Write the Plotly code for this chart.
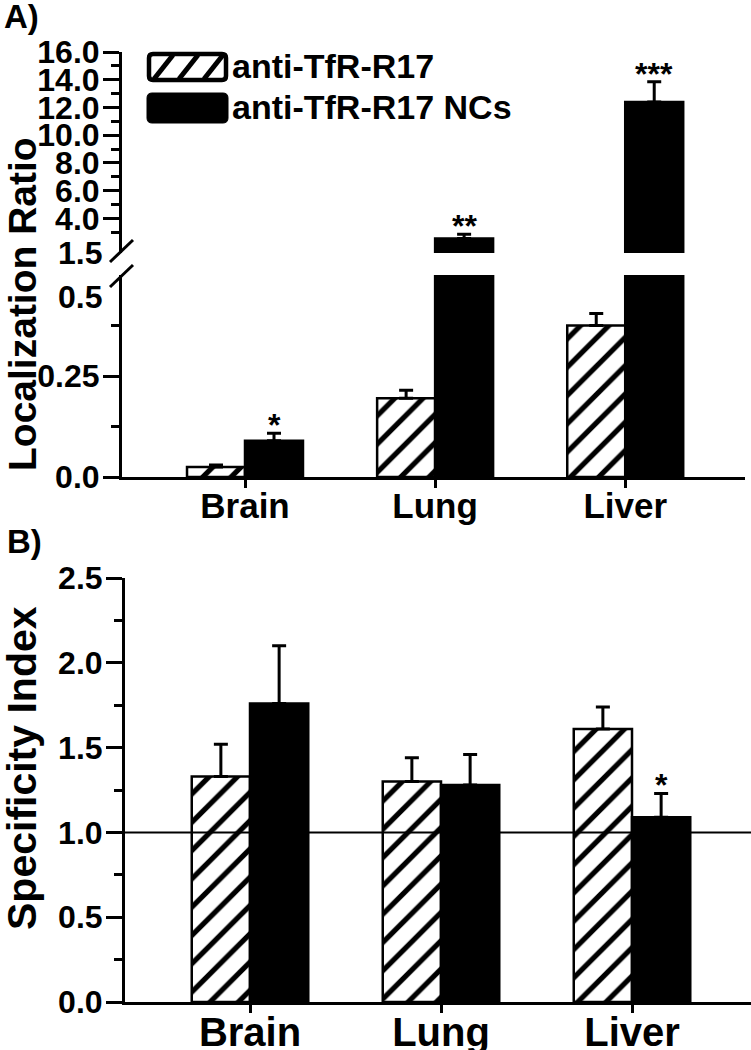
import plotly.graph_objects as go

# ---------------- data ----------------
categories = ["Brain", "Lung", "Liver"]
series_names = ["anti-TfR-R17", "anti-TfR-R17 NCs"]

loc_antibody = [0.025, 0.195, 0.375]
loc_antibody_err = [0.005, 0.02, 0.03]
loc_nc = [0.09, 2.55, 12.4]
loc_nc_err = [0.018, 0.3, 1.45]
loc_sig = ["*", "**", "***"]

spec_antibody = [1.33, 1.30, 1.61]
spec_antibody_err = [0.19, 0.14, 0.13]
spec_nc = [1.76, 1.28, 1.09]
spec_nc_err = [0.34, 0.18, 0.14]
spec_sig = ["", "", "*"]

upper_ticks = [4, 6, 8, 10, 12, 14, 16]
upper_minor = [3, 5, 7, 9, 11, 13, 15]
lower_ticks = [0, 0.25]
lower_minor = [0.125, 0.375]
spec_ticks = [0, 0.5, 1.0, 1.5, 2.0, 2.5]
spec_minor = [0.25, 0.75, 1.25, 1.75, 2.25]
break_low, break_high = 0.5, 1.5
reference_line = 1.0

# ---------------- layout helpers ----------------
W, H = 751, 1050
FONT = "Liberation Sans"


def fx(px):
    return px / W


def fy(py):
    return 1 - py / H


BW = 0.305
xpos = list(range(len(categories)))


def bars(y, err, hatched, xa, ya):
    marker = dict(color="white" if hatched else "black",
                  line=dict(color="black", width=2.5))
    if hatched:
        marker["pattern"] = dict(shape="/", fgcolor="black", bgcolor="white",
                                 size=20, solidity=0.26, fgopacity=1)
    return go.Bar(
        x=xpos, y=y, width=BW, offset=-BW if hatched else 0,
        marker=marker,
        error_y=dict(type="data", array=err, arrayminus=[0] * len(err),
                     symmetric=False, color="black", thickness=3, width=7),
        xaxis=xa, yaxis=ya, showlegend=False,
    )


fig = go.Figure()
for ya in ["y2", "y3"]:
    fig.add_trace(bars(loc_antibody, loc_antibody_err, True, "x", ya))
    fig.add_trace(bars(loc_nc, loc_nc_err, False, "x", ya))
fig.add_trace(bars(spec_antibody, spec_antibody_err, True, "x2", "y"))
fig.add_trace(bars(spec_nc, spec_nc_err, False, "x2", "y"))

axis_common = dict(showline=True, linewidth=3, linecolor="black",
                   ticks="outside", tickwidth=3, tickcolor="black",
                   showgrid=False, zeroline=False, fixedrange=True,
                   automargin=False)

ytick_font = dict(family=FONT, size=32, color="black", weight="bold")

fig.update_layout(
    template="none",
    width=W, height=H, autosize=False,
    margin=dict(l=0, r=0, t=0, b=0, pad=0),
    paper_bgcolor="white", plot_bgcolor="white",
    barmode="overlay",
    font=dict(family=FONT, color="black", weight="bold"),
    xaxis=dict(domain=[fx(122), fx(745)], anchor="y2",
               range=[-0.647, 2.63], tickvals=xpos, ticktext=categories,
               ticklen=8, ticklabelstandoff=-12,
               tickfont=dict(family=FONT, size=35, color="black", weight="bold"),
               **axis_common),
    yaxis2=dict(domain=[fy(477), fy(275)], anchor="x",
                range=[0, break_low], tickvals=lower_ticks,
                ticktext=["0.0", "0.25"], ticklen=16, ticklabelstandoff=-3,
                tickfont=ytick_font,
                minor=dict(tickvals=lower_minor, ticklen=8, tickwidth=3,
                           ticks="outside", tickcolor="black"),
                **axis_common),
    yaxis3=dict(domain=[fy(253), fy(52)], anchor="x",
                range=[break_high, 16], tickvals=upper_ticks,
                ticktext=[f"{v:.1f}" for v in upper_ticks], ticklen=16,
                ticklabelstandoff=-3, tickfont=ytick_font,
                minor=dict(tickvals=upper_minor, ticklen=8, tickwidth=3,
                           ticks="outside", tickcolor="black"),
                **axis_common),
    xaxis2=dict(domain=[fx(125), 1.0], anchor="y",
                range=[-(250 - 125) / 191, 2 + (751 - 632) / 191],
                tickvals=xpos, ticktext=categories, ticklen=8,
                ticklabelstandoff=-15,
                tickfont=dict(family=FONT, size=40, color="black", weight="bold"),
                **axis_common),
    yaxis=dict(domain=[fy(1002), fy(578)], anchor="x2",
               range=[0, 2.5], tickvals=spec_ticks,
               ticktext=[f"{v:.1f}" for v in spec_ticks], ticklen=16,
               ticklabelstandoff=-3, tickfont=ytick_font,
               minor=dict(tickvals=spec_minor, ticklen=8, tickwidth=3,
                          ticks="outside", tickcolor="black"),
               **axis_common),
)

shapes = []
shapes.append(dict(type="line", xref="x2 domain", yref="y", x0=0, x1=1,
                   y0=reference_line, y1=reference_line,
                   line=dict(color="black", width=2)))
for (x0, y0, x1, y1) in [(110, 262, 133, 240), (110, 287, 133, 265)]:
    shapes.append(dict(type="line", xref="paper", yref="paper",
                       x0=fx(x0), y0=fy(y0), x1=fx(x1), y1=fy(y1),
                       line=dict(color="black", width=3)))


def rrect(x0, y0, x1, y1, r):
    rx, ry = r / W, r / H
    X0, X1, Y0, Y1 = fx(x0), fx(x1), fy(y0), fy(y1)
    return (f"M {X0+rx},{Y0} L {X1-rx},{Y0} Q {X1},{Y0} {X1},{Y0-ry} "
            f"L {X1},{Y1+ry} Q {X1},{Y1} {X1-rx},{Y1} L {X0+rx},{Y1} "
            f"Q {X0},{Y1} {X0},{Y1+ry} L {X0},{Y0-ry} Q {X0},{Y0} {X0+rx},{Y0} Z")


shapes.append(dict(type="path", xref="paper", yref="paper",
                   path=rrect(149, 54, 226, 80, 4), fillcolor="white",
                   line=dict(color="black", width=4.5)))
for bx in [154, 179, 204]:
    shapes.append(dict(type="line", xref="paper", yref="paper",
                       x0=fx(bx), y0=fy(79), x1=fx(bx + 19), y1=fy(55),
                       line=dict(color="black", width=5)))
shapes.append(dict(type="path", xref="paper", yref="paper",
                   path=rrect(147, 93, 228, 123, 5), fillcolor="black",
                   line=dict(color="black", width=1)))
fig.update_layout(shapes=shapes)

ann = []
big = dict(family=FONT, size=34, color="black", weight="bold")
ann.append(dict(text=series_names[0], x=fx(230), y=fy(66), xref="paper", yref="paper",
                xanchor="left", yanchor="middle", showarrow=False, font=big))
ann.append(dict(text=series_names[1], x=fx(230), y=fy(107), xref="paper", yref="paper",
                xanchor="left", yanchor="middle", showarrow=False, font=big))
ann.append(dict(text="A)", x=fx(2), y=fy(16), xref="paper", yref="paper",
                xanchor="left", yanchor="middle", showarrow=False,
                font=dict(family=FONT, size=33, color="black", weight="bold")))
ann.append(dict(text="B)", x=fx(5), y=fy(541), xref="paper", yref="paper",
                xanchor="left", yanchor="middle", showarrow=False,
                font=dict(family=FONT, size=33, color="black", weight="bold")))
ann.append(dict(text="Localization Ratio", x=fx(22), y=fy(304), xref="paper", yref="paper",
                xanchor="center", yanchor="middle", textangle=-90, showarrow=False,
                font=dict(family=FONT, size=39, color="black", weight="bold")))
ann.append(dict(text="Specificity Index", x=fx(22), y=fy(768), xref="paper", yref="paper",
                xanchor="center", yanchor="middle", textangle=-90, showarrow=False,
                font=dict(family=FONT, size=41, color="black", weight="bold")))
ann.append(dict(text=f"{break_high:.1f}", x=0, xref="x domain", y=break_high, yref="y3",
                xanchor="right", yanchor="middle", xshift=-18, showarrow=False, font=ytick_font))
ann.append(dict(text=f"{break_low:.1f}", x=0, xref="x domain", y=break_low, yref="y2",
                xanchor="right", yanchor="middle", xshift=-18, yshift=-22,
                showarrow=False, font=ytick_font))
star_font = dict(family=FONT, size=32, color="black", weight="bold")
for i, s in enumerate(loc_sig):
    if not s:
        continue
    top = loc_nc[i] + loc_nc_err[i]
    ann.append(dict(text=s, x=i + BW / 2, xref="x", y=top,
                    yref="y3" if top > break_high else "y2",
                    xanchor="center", yanchor="bottom", yshift=-12,
                    showarrow=False, font=star_font))
for i, s in enumerate(spec_sig):
    if not s:
        continue
    top = spec_nc[i] + spec_nc_err[i]
    ann.append(dict(text=s, x=i + BW / 2, xref="x2", y=top, yref="y",
                    xanchor="center", yanchor="bottom", yshift=-12,
                    showarrow=False, font=star_font))
fig.update_layout(annotations=ann)

fig.write_html("out.html", config={"displayModeBar": False},
               post_script="document.body.style.margin='0';")
